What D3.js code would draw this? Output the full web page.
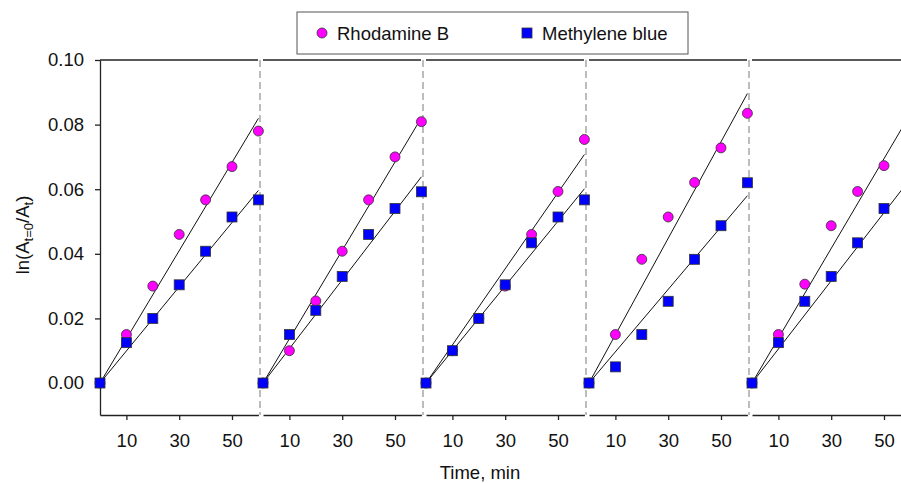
<!DOCTYPE html>
<html>
<head>
<meta charset="utf-8">
<script src="https://cdn.jsdelivr.net/npm/d3@7"></script>
<style>
  body { margin: 0; background: #fff; }
  svg { display: block; font-family: "Liberation Sans", Arial, sans-serif; }
</style>
</head>
<body>
<svg width="901" height="483"></svg>
<script>
// sampling times (min), same for every panel
var times = [0, 10, 20, 30, 40, 50, 60];

// ln(A0/At) per panel
var rhodamine = [
  [0, 0.0150, 0.0300, 0.0460, 0.0567, 0.0670, 0.0780],
  [0, 0.0100, 0.0254, 0.0408, 0.0567, 0.0700, 0.0809],
  [0, 0.0100, 0.0200, 0.0300, 0.0460, 0.0593, 0.0754],
  [0, 0.0150, 0.0383, 0.0514, 0.0621, 0.0728, 0.0835],
  [0, 0.0150, 0.0306, 0.0487, 0.0593, 0.0673, 0.0780]
];
var methylene = [
  [0, 0.0125, 0.0200, 0.0304, 0.0408, 0.0514, 0.0567],
  [0, 0.0150, 0.0225, 0.0330, 0.0460, 0.0540, 0.0592],
  [0, 0.0100, 0.0200, 0.0304, 0.0434, 0.0514, 0.0567],
  [0, 0.0050, 0.0150, 0.0253, 0.0383, 0.0487, 0.0620],
  [0, 0.0125, 0.0253, 0.0330, 0.0434, 0.0540, 0.0590]
];

var seriesNames = ["Rhodamine B", "Methylene blue"];
var yTicks = [0, 0.02, 0.04, 0.06, 0.08, 0.10];
var xTicks = [10, 30, 50];

var svg = d3.select("svg");
var top0 = 60, bottom0 = 415, left0 = 100;
var panelStep = 163, panelLen = 158.4;
var fs = 18.5;

var y = d3.scaleLinear().domain([-0.0099, 0.10]).range([bottom0, top0]);

// slope of a line forced through the origin
function slope(vals) {
  var sxy = d3.sum(times, function(t, i) { return t * vals[i]; });
  var sxx = d3.sum(times, function(t) { return t * t; });
  return sxy / sxx;
}

// y axis
svg.append("g")
    .attr("transform", "translate(" + left0 + ",0)")
    .call(d3.axisLeft(y).tickValues(yTicks).tickSize(5).tickSizeOuter(0).tickPadding(11)
      .tickFormat(d3.format(".2f")))
    .call(function(g) {
      g.select(".domain").attr("stroke", "#222").attr("stroke-width", 1.3);
      g.selectAll(".tick line").attr("stroke", "#222").attr("stroke-width", 1.3);
      g.selectAll("text").attr("font-size", fs).attr("fill", "#111").attr("font-family", "Liberation Sans, Arial");
    });

rhodamine.forEach(function(rb, p) {
  var mb = methylene[p];
  var x0 = left0 + p * panelStep;
  var x = d3.scaleLinear().domain([0, 60]).range([x0, x0 + panelLen]);
  var g = svg.append("g");

  // top frame line
  g.append("line")
      .attr("x1", x0).attr("x2", x0 + 158).attr("y1", top0).attr("y2", top0)
      .attr("stroke", "#222").attr("stroke-width", 1.3);

  // bottom axis
  g.append("g")
      .attr("transform", "translate(0," + bottom0 + ")")
      .call(d3.axisBottom(x).tickValues(xTicks).tickSize(5).tickSizeOuter(0).tickPadding(14))
      .call(function(a) {
        a.select(".domain").attr("stroke", "#222").attr("stroke-width", 1.3);
        a.selectAll(".tick line").attr("stroke", "#222").attr("stroke-width", 1.3);
        a.selectAll("text").attr("font-size", fs).attr("fill", "#111").attr("font-family", "Liberation Sans, Arial");
      });

  // dashed divider at right of panel
  g.append("line")
      .attr("x1", x0 + 160).attr("x2", x0 + 160).attr("y1", top0).attr("y2", bottom0)
      .attr("stroke", "#999").attr("stroke-width", 1.3).attr("stroke-dasharray", "7,4");

  // fitted lines
  [rb, mb].forEach(function(vals) {
    var k = slope(vals);
    g.append("line")
        .attr("x1", x(0)).attr("y1", y(0))
        .attr("x2", x(60)).attr("y2", y(k * 60))
        .attr("stroke", "#111").attr("stroke-width", 1);
  });

  // Rhodamine B points
  g.selectAll(".rb")
      .data(rb)
      .enter().append("circle")
      .attr("class", "rb")
      .attr("cx", function(d, i) { return x(times[i]); })
      .attr("cy", function(d) { return y(d); })
      .attr("r", 5)
      .attr("fill", "#ff00ff")
      .attr("stroke", "#333").attr("stroke-width", 0.8);

  // Methylene blue points
  g.selectAll(".mb")
      .data(mb)
      .enter().append("rect")
      .attr("class", "mb")
      .attr("x", function(d, i) { return x(times[i]) - 5; })
      .attr("y", function(d) { return y(d) - 5; })
      .attr("width", 10).attr("height", 10)
      .attr("fill", "#0000ff")
      .attr("stroke", "#333").attr("stroke-width", 0.8);
});

// axis titles
svg.append("text")
    .attr("x", 480).attr("y", 479)
    .attr("text-anchor", "middle")
    .attr("font-size", fs).attr("fill", "#111")
    .text("Time, min");

var yt = svg.append("text")
    .attr("transform", "translate(29,235) rotate(-90)")
    .attr("text-anchor", "middle")
    .attr("font-size", fs).attr("fill", "#111");
yt.append("tspan").text("ln(A");
yt.append("tspan").attr("font-size", 13).attr("dy", 4).text("t=0");
yt.append("tspan").attr("dy", -4).text("/A");
yt.append("tspan").attr("font-size", 13).attr("dy", 4).text("t");
yt.append("tspan").attr("dy", -4).text(")");

// legend
var lg = svg.append("g");
lg.append("rect")
    .attr("x", 297).attr("y", 12).attr("width", 391).attr("height", 42)
    .attr("fill", "#fff").attr("stroke", "#555").attr("stroke-width", 1);
lg.append("circle")
    .attr("cx", 322).attr("cy", 33).attr("r", 5)
    .attr("fill", "#ff00ff").attr("stroke", "#333").attr("stroke-width", 0.8);
lg.append("text")
    .attr("x", 337).attr("y", 39.5).attr("font-size", fs).attr("fill", "#111")
    .text(seriesNames[0]);
lg.append("rect")
    .attr("x", 522).attr("y", 28).attr("width", 10).attr("height", 10)
    .attr("fill", "#0000ff").attr("stroke", "#333").attr("stroke-width", 0.8);
lg.append("text")
    .attr("x", 542).attr("y", 39.5).attr("font-size", fs).attr("fill", "#111")
    .text(seriesNames[1]);
</script>
</body>
</html>
